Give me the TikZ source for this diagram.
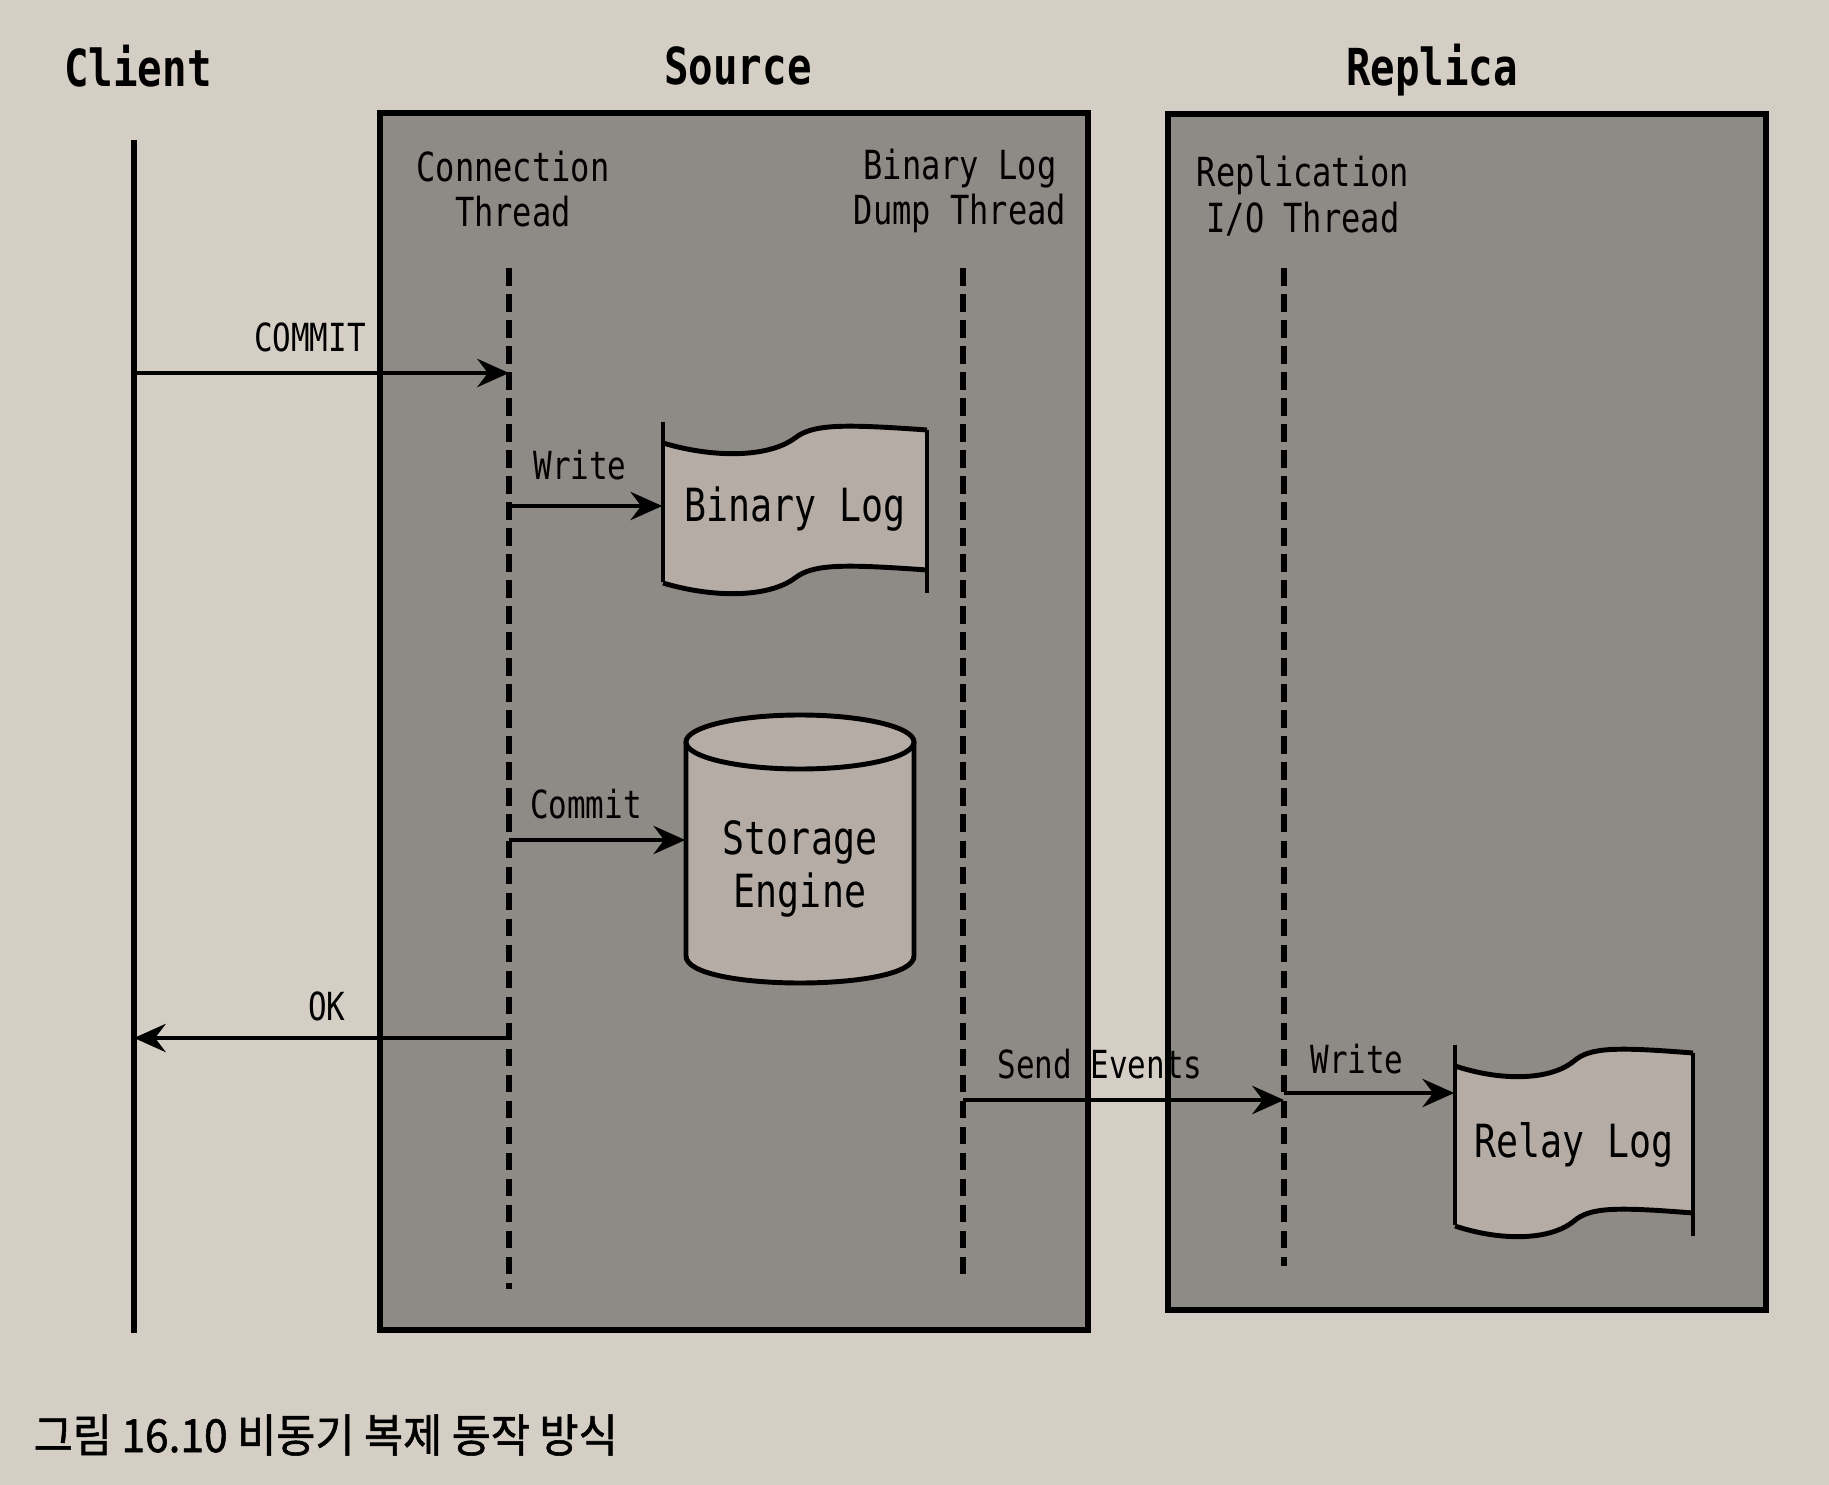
\documentclass[tikz,border=0pt]{standalone}
\usepackage{fontspec}
\newfontfamily\diagfont[FakeStretch=0.8]{DejaVu Sans Mono}
\newfontfamily\capfont[FakeStretch=0.93, FakeBold=1.2]{Noto Sans CJK KR}
\usetikzlibrary{arrows.meta}

\definecolor{paper}{HTML}{D5CEC5}
\definecolor{boxgray}{HTML}{8E8A86}
\definecolor{loggray}{HTML}{B5ACA5}

% log sheet: top-left x, top-left y, xscale, height of the wave band
\newcommand{\logsheet}[4]{%
  \begin{scope}[shift={(#1,#2)}, xscale=#3]
    \fill[loggray] (0,21) .. controls (50,36) and (105,36) .. (132,16)
      .. controls (150,2) and (180,2) .. (264,8) -- (264,8+#4)
      .. controls (180,2+#4) and (150,2+#4) .. (132,16+#4)
      .. controls (105,36+#4) and (50,36+#4) .. (0,21+#4) -- cycle;
    \draw[sheet] (0,21) .. controls (50,36) and (105,36) .. (132,16)
      .. controls (150,2) and (180,2) .. (264,8);
    \draw[sheet] (0,21+#4) .. controls (50,36+#4) and (105,36+#4) .. (132,16+#4)
      .. controls (150,2+#4) and (180,2+#4) .. (264,8+#4);
    \draw[sheet] (0,0) -- (0,20+#4);
    \draw[sheet] (264,8) -- (264,31+#4);
  \end{scope}}

\begin{document}
\begin{tikzpicture}[x=0.01cm, y=-0.01cm,
  lane/.style={draw=black, line width=1.5pt, fill=boxgray},
  lifeline/.style={line width=1.5pt},
  thread/.style={line width=1.5pt, dash pattern=on 5pt off 2.4pt},
  msg/.style={line width=1.3pt, -{Stealth[length=9pt, width=8pt, inset=3pt]}},
  sheet/.style={line width=1.4pt},
  title/.style={font=\diagfont\bfseries\fontsize{14.5}{17}\selectfont},
  who/.style={font=\diagfont\fontsize{11.4}{13}\selectfont, align=center},
  lbl/.style={font=\diagfont\fontsize{11}{13}\selectfont},
  inside/.style={font=\diagfont\fontsize{13}{15}\selectfont, align=center, inner sep=0pt}]

\fill[paper] (0,0) rectangle (1829,1485);

% boxes
\draw[lane] (380,113) rectangle (1088,1330);
\draw[lane] (1168,114) rectangle (1766,1310);

\node[title] (client) at (138,66) {Client};
\node[title] (source) at (738,66) {Source};
\node[title] (replica) at (1432,70) {Replica};

\node[who] (conn) at (513,189) {Connection\\Thread};
\node[who] (dump) at (960,191) {Binary Log\\Dump Thread};
\node[who] (io) at (1303,196) {Replication\\I/O Thread};

% lifelines
\coordinate (client-top) at (134,140);
\coordinate (client-bot) at (134,1333);
\coordinate (conn-top) at (509,268);
\coordinate (conn-bot) at (509,1289);
\coordinate (dump-top) at (963,268);
\coordinate (dump-bot) at (963,1274);
\coordinate (io-top) at (1284,268);
\coordinate (io-bot) at (1284,1266);

\draw[lifeline] (client-top) -- (client-bot);
\draw[thread] (conn-top) -- (conn-bot);
\draw[thread] (dump-top) -- (dump-bot);
\draw[thread] (io-top) -- (io-bot);

% storage
\logsheet{663}{422}{1}{140}
\node[inside, minimum width=2.64cm] (binlog) at (795,509) {Binary Log};

\fill[loggray] (686,742) -- (686,956) .. controls (686,992) and (914,992) .. (914,956) -- (914,742) -- cycle;
\fill[loggray] (800,742) ellipse [x radius=114, y radius=27];
\draw[sheet] (800,742) ellipse [x radius=114, y radius=27];
\draw[sheet] (686,742) -- (686,956) .. controls (686,992) and (914,992) .. (914,956) -- (914,742);
\node[inside, minimum width=2.28cm] (engine) at (800,869) {Storage\\Engine};

\logsheet{1455}{1045}{0.9015}{160}
\node[inside, minimum width=2.38cm] (relaylog) at (1574,1145) {Relay Log};

% messages
\coordinate (commit-a) at (client-top |- 0,373);
\coordinate (write-a) at (conn-top |- 0,506);
\coordinate (store-a) at (conn-top |- 0,840);
\coordinate (ok-a) at (conn-top |- 0,1038);
\coordinate (send-a) at (dump-top |- 0,1100);
\coordinate (relay-a) at (io-top |- 0,1093);

\draw[msg] (commit-a) -- (commit-a -| conn-top);
\draw[msg] (write-a) -- (write-a -| binlog.west);
\draw[msg] (store-a) -- (store-a -| engine.west);
\draw[msg] (ok-a) -- (ok-a -| client-top);
\draw[msg] (send-a) -- (send-a -| io-top);
\draw[msg] (relay-a) -- (relay-a -| relaylog.west);

\node[lbl] (commit-l) at (310,337) {COMMIT};
\node[lbl] (write-l) at (580,465) {Write};
\node[lbl] (store-l) at (586,804) {Commit};
\node[lbl] (ok-l) at (327,1006) {OK};
\node[lbl] (send-l) at (1100,1064) {Send Events};
\node[lbl] (relay-l) at (1357,1059) {Write};

\node[anchor=west, font=\capfont\fontsize{13}{15}\selectfont, inner sep=0pt] (caption) at (33,1435) {그림 16.10 비동기 복제 동작 방식};
\end{tikzpicture}
\end{document}
